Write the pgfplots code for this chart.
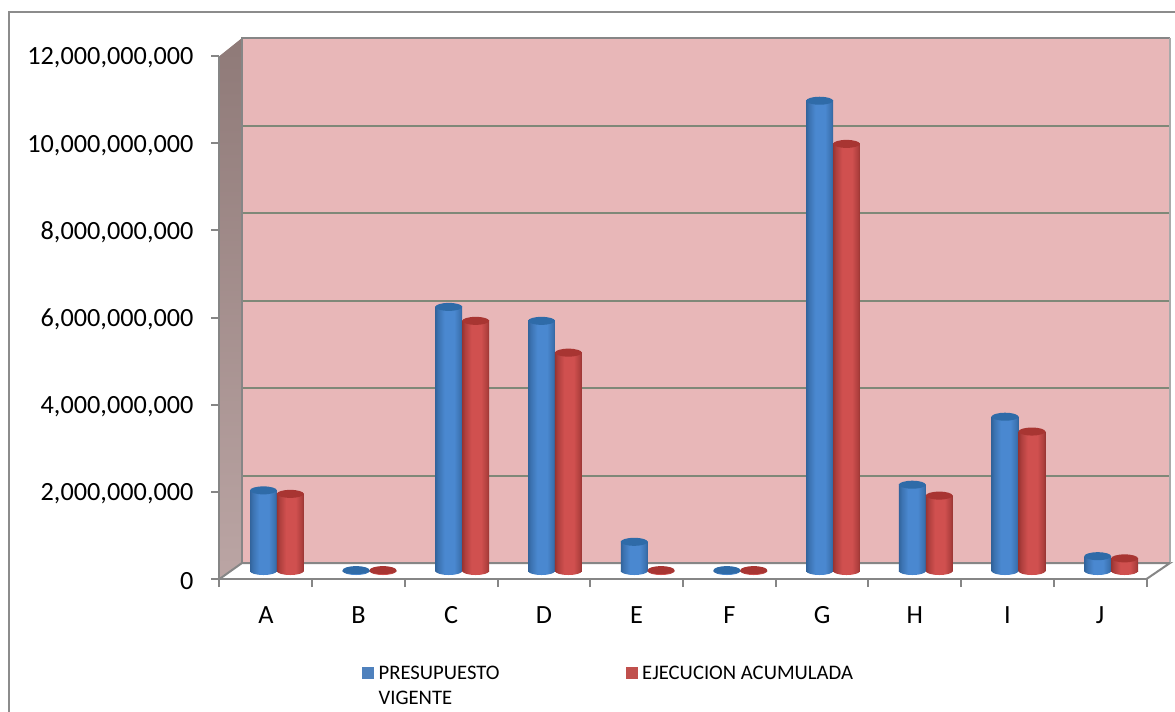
\documentclass[border=0pt]{standalone}
\usepackage{pgfplots}
\usepackage{pgfplotstable}
\usepackage{fontspec}
\setmainfont{Carlito}
\pgfplotsset{compat=1.18}

\definecolor{frameg}{HTML}{8C8C8C}
\definecolor{axisg}{HTML}{868686}
\definecolor{gridg}{HTML}{7F8878}
\definecolor{wall}{HTML}{E8B7B8}
\definecolor{sidetop}{HTML}{8F7A78}
\definecolor{sidebot}{HTML}{BBA5A4}
\definecolor{bd}{HTML}{32649C}
\definecolor{bl}{HTML}{4A88D0}
\definecolor{btop}{HTML}{2F6BA8}
\definecolor{rd}{HTML}{983432}
\definecolor{rl}{HTML}{D0504F}
\definecolor{rtop}{HTML}{A83532}
\definecolor{legb}{HTML}{4F81BD}
\definecolor{legr}{HTML}{C0504D}

% cylinder side shadings: the path spans 25bp to 75bp of the shading box
\pgfdeclarehorizontalshading{bluecyl}{100bp}{color(0bp)=(bd); color(25bp)=(bd); color(30bp)=(bd!60!bl); color(42bp)=(bl); color(60bp)=(bl); color(71bp)=(bd!60!bl); color(75bp)=(bd); color(100bp)=(bd)}
\pgfdeclarehorizontalshading{redcyl}{100bp}{color(0bp)=(rd); color(25bp)=(rd); color(30bp)=(rd!60!rl); color(42bp)=(rl); color(60bp)=(rl); color(71bp)=(rd!60!rl); color(75bp)=(rd); color(100bp)=(rd)}

% cylinder caps and bases
\pgfdeclareplotmark{bluebase}{\pgfpathellipse{\pgfpointorigin}{\pgfqpoint{10.05pt}{0pt}}{\pgfqpoint{0pt}{3pt}}\pgfshadepath{bluecyl}{0}\pgfusepath{discard}}
\pgfdeclareplotmark{redbase}{\pgfpathellipse{\pgfpointorigin}{\pgfqpoint{10.05pt}{0pt}}{\pgfqpoint{0pt}{3pt}}\pgfshadepath{redcyl}{0}\pgfusepath{discard}}
\pgfdeclareplotmark{bluecap}{\pgfpathellipse{\pgfpointorigin}{\pgfqpoint{10.05pt}{0pt}}{\pgfqpoint{0pt}{3pt}}\pgfsetfillcolor{btop}\pgfusepathqfill}
\pgfdeclareplotmark{redcap}{\pgfpathellipse{\pgfpointorigin}{\pgfqpoint{10.05pt}{0pt}}{\pgfqpoint{0pt}{3pt}}\pgfsetfillcolor{rtop}\pgfusepathqfill}

\pgfplotstableread{
x   vigente     ejecucion
0.5 1850000000  1770000000
1.5 20000000    20000000
2.5 6060000000  5740000000
3.5 5740000000  5010000000
4.5 670000000   20000000
5.5 20000000    20000000
6.5 10790000000 9800000000
7.5 1980000000  1730000000
8.5 3540000000  3200000000
9.5 340000000   290000000
}\budget

\begin{document}
\begin{tikzpicture}[x=0.75pt,y=-0.75pt]
  \useasboundingbox (0,0) rectangle (1175,711);
  \fill[white] (0,0) rectangle (1175,711);
  \begin{scope}
    \clip (0,0) rectangle (1175,711);
    \draw[frameg,line width=1.5pt] (8.5,730) -- (8.5,11.5) -- (1190,11.5);
  \end{scope}

  % side wall and floor of the plot box
  \shade[top color=sidetop, bottom color=sidebot]
    (219.5,56) -- (242,38) -- (242,563) -- (219.5,579) -- cycle;
  \draw[axisg,line width=1.5pt,fill=white] (219.5,579) -- (242,563) -- (1170,563) -- (1146.5,579);

  \coordinate (back) at (242,563);
  \coordinate (front) at (219.5,579);
  \coordinate (mid) at (230.5,571);

  % back wall with its gridlines
  \begin{axis}[
    at={(back)}, anchor=south west, scale only axis,
    width=696pt, height=393.75pt,
    xmin=0, xmax=10, ymin=0, ymax=12000000000,
    ytick={2000000000,4000000000,6000000000,8000000000,10000000000},
    xtick=\empty, yticklabels={},
    ymajorgrids, major tick length=0pt,
    grid style={gridg,line width=1.5pt},
    axis background/.style={fill=wall},
    axis line style={draw=none},
    scaled y ticks=false,
  ]
    \addplot[draw=none,forget plot] coordinates {(0,0)};
  \end{axis}
  \draw[axisg,line width=1.5pt] (242,563) -- (242,38) -- (1170,38);
  \draw[axisg!70!white,line width=1pt] (1170,38) -- (1170,563);
  \draw[axisg,line width=1.5pt] (242,563) -- (1170,563);

  % value axis and category axis on the front plane
  \begin{axis}[
    at={(front)}, anchor=south west, scale only axis,
    width=695.25pt, height=392.25pt,
    xmin=0, xmax=10, ymin=0, ymax=12000000000,
    xtick={0,1,...,10},
    extra x ticks={0.5,1.5,2.5,3.5,4.5,5.5,6.5,7.5,8.5,9.5},
    extra x tick style={major tick length=0pt},
    extra x tick labels={A,B,C,D,E,F,G,H,I,J},
    xticklabels={},
    ytick={0,2000000000,4000000000,6000000000,8000000000,10000000000,12000000000},
    scaled y ticks=false,
    axis x line*=bottom, axis y line*=left,
    axis line style={axisg,line width=1.5pt,-},
    tick style={axisg,line width=1.5pt},
    tick align=outside, major tick length=6pt,
    yticklabel style={xshift=-10pt,yshift=-1.5pt,/pgf/number format/fixed,/pgf/number format/precision=0,/pgf/number format/1000 sep={,},/pgf/number format/assume math mode=true},
    ticklabel style={font=\fontsize{19.7}{20}\selectfont,text=black},
    xticklabel style={yshift=-17pt},
  ]
    \addplot[draw=none,forget plot] coordinates {(0,0)};
  \end{axis}

  % the cylinders stand halfway into the floor; each bar is its own path,
  % so that its shading spans that bar alone
  \begin{axis}[
    at={(mid)}, anchor=south west, scale only axis,
    width=695.25pt, height=392.25pt,
    xmin=0, xmax=10, ymin=0, ymax=12000000000,
    hide axis, clip=false,
    legend style={
      at={(rel axis cs:0,0)}, anchor=north west,
      xshift=98.6pt, yshift=-69pt,
      draw=none, fill=none, inner sep=0pt, outer sep=0pt,
      font=\fontsize{15.5}{18.75}\selectfont,
      legend columns=2,
      cells={align=left},
      /tikz/column 2/.style={column sep=92.5pt},
    },
    legend cell align=left,
  ]
    \addplot[only marks,mark=bluebase,forget plot] table[x expr=\thisrow{x}-0.145,y expr=0] {\budget};
    \addplot[only marks,mark=redbase,forget plot] table[x expr=\thisrow{x}+0.145,y expr=0] {\budget};
    \pgfplotsinvokeforeach{0,...,9}{
      \addplot[ybar,bar width=20.1pt,bar shift=0pt,draw=none,shade,shading=bluecyl,forget plot,
        restrict expr to domain={\coordindex}{#1:#1}] table[x expr=\thisrow{x}-0.145,y=vigente] {\budget};
      \addplot[ybar,bar width=20.1pt,bar shift=0pt,draw=none,shade,shading=redcyl,forget plot,
        restrict expr to domain={\coordindex}{#1:#1}] table[x expr=\thisrow{x}+0.145,y=ejecucion] {\budget};
    }
    \addplot[only marks,mark=bluecap,forget plot] table[x expr=\thisrow{x}-0.145,y=vigente] {\budget};
    \addplot[only marks,mark=redcap,forget plot] table[x expr=\thisrow{x}+0.145,y=ejecucion] {\budget};
    \addlegendimage{legend image code/.code={\fill[legb,draw=none] (0pt,5.25pt) rectangle (9pt,14.25pt);\path[draw=none,fill=none] (9pt,5.25pt) -- (10.5pt,5.25pt);}}
    \addlegendentry{PRESUPUESTO\\VIGENTE}
    \addlegendimage{legend image code/.code={\fill[legr,draw=none] (0pt,5.25pt) rectangle (9pt,14.25pt);\path[draw=none,fill=none] (9pt,5.25pt) -- (10.5pt,5.25pt);}}
    \addlegendentry{EJECUCION ACUMULADA\\\strut}
  \end{axis}
\end{tikzpicture}
\end{document}
